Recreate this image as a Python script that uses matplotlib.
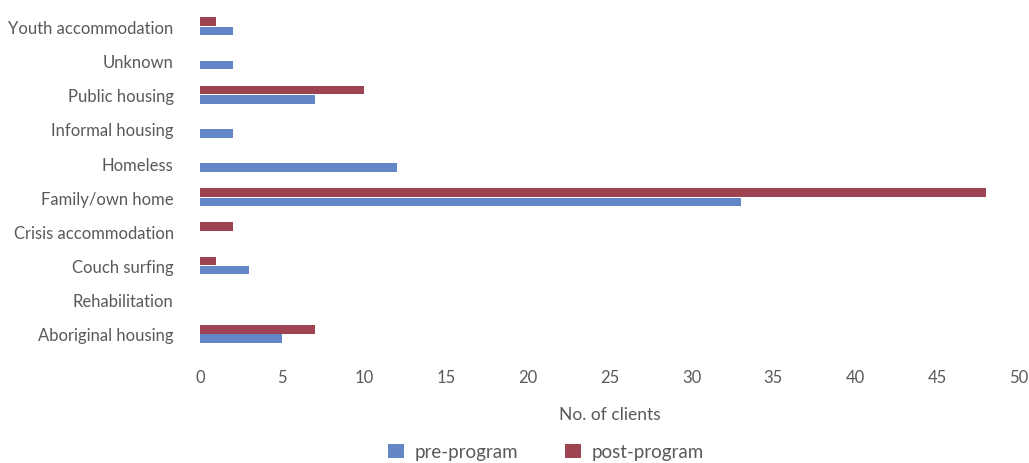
import numpy as np
import matplotlib.pyplot as plt

# categories listed from bottom to top
categories = ['Aboriginal housing', 'Rehabilitation', 'Couch surfing',
              'Crisis accommodation', 'Family/own home', 'Homeless',
              'Informal housing', 'Public housing', 'Unknown',
              'Youth accommodation']
pre_program = [5, 0, 3, 0, 33, 12, 2, 7, 2, 2]
post_program = [7, 0, 1, 2, 48, 0, 0, 10, 0, 1]
x_ticks = [0, 5, 10, 15, 20, 25, 30, 35, 40, 45, 50]

plt.rcParams['font.family'] = ['Lato', 'DejaVu Sans']
text_col = '#595959'
blue = '#6286C6'
red = '#9D4352'

fig = plt.figure(figsize=(10.29, 4.64), dpi=100)
ax = fig.add_axes([0.1944, 0.2414, 0.7959, 0.7366])

y = np.arange(len(categories))
h = 0.25
ax.barh(y - 0.135, pre_program, height=h, color=blue, label='pre-program')
ax.barh(y + 0.135, post_program, height=h, color=red, label='post-program')

ax.set_xlim(0, 50)
ax.set_ylim(-0.5, len(categories) - 0.5)
ax.set_xticks(x_ticks)
ax.set_yticks(y)
ax.set_yticklabels(categories)
ax.tick_params(axis='both', length=0, labelsize=12, colors=text_col)
ax.tick_params(axis='y', pad=19)
ax.tick_params(axis='x', pad=13)
for s in ax.spines.values():
    s.set_visible(False)

ax.set_xlabel('No. of clients', fontsize=12.5, color=text_col, labelpad=15)

fig.legend(loc='center', bbox_to_anchor=(546 / 1029, 1 - 453 / 464),
           ncol=2, frameon=False, fontsize=13.5, labelcolor=text_col,
           handlelength=0.85, handleheight=0.85, columnspacing=2.45,
           handletextpad=0.6)

plt.savefig('out.png', dpi=100)
